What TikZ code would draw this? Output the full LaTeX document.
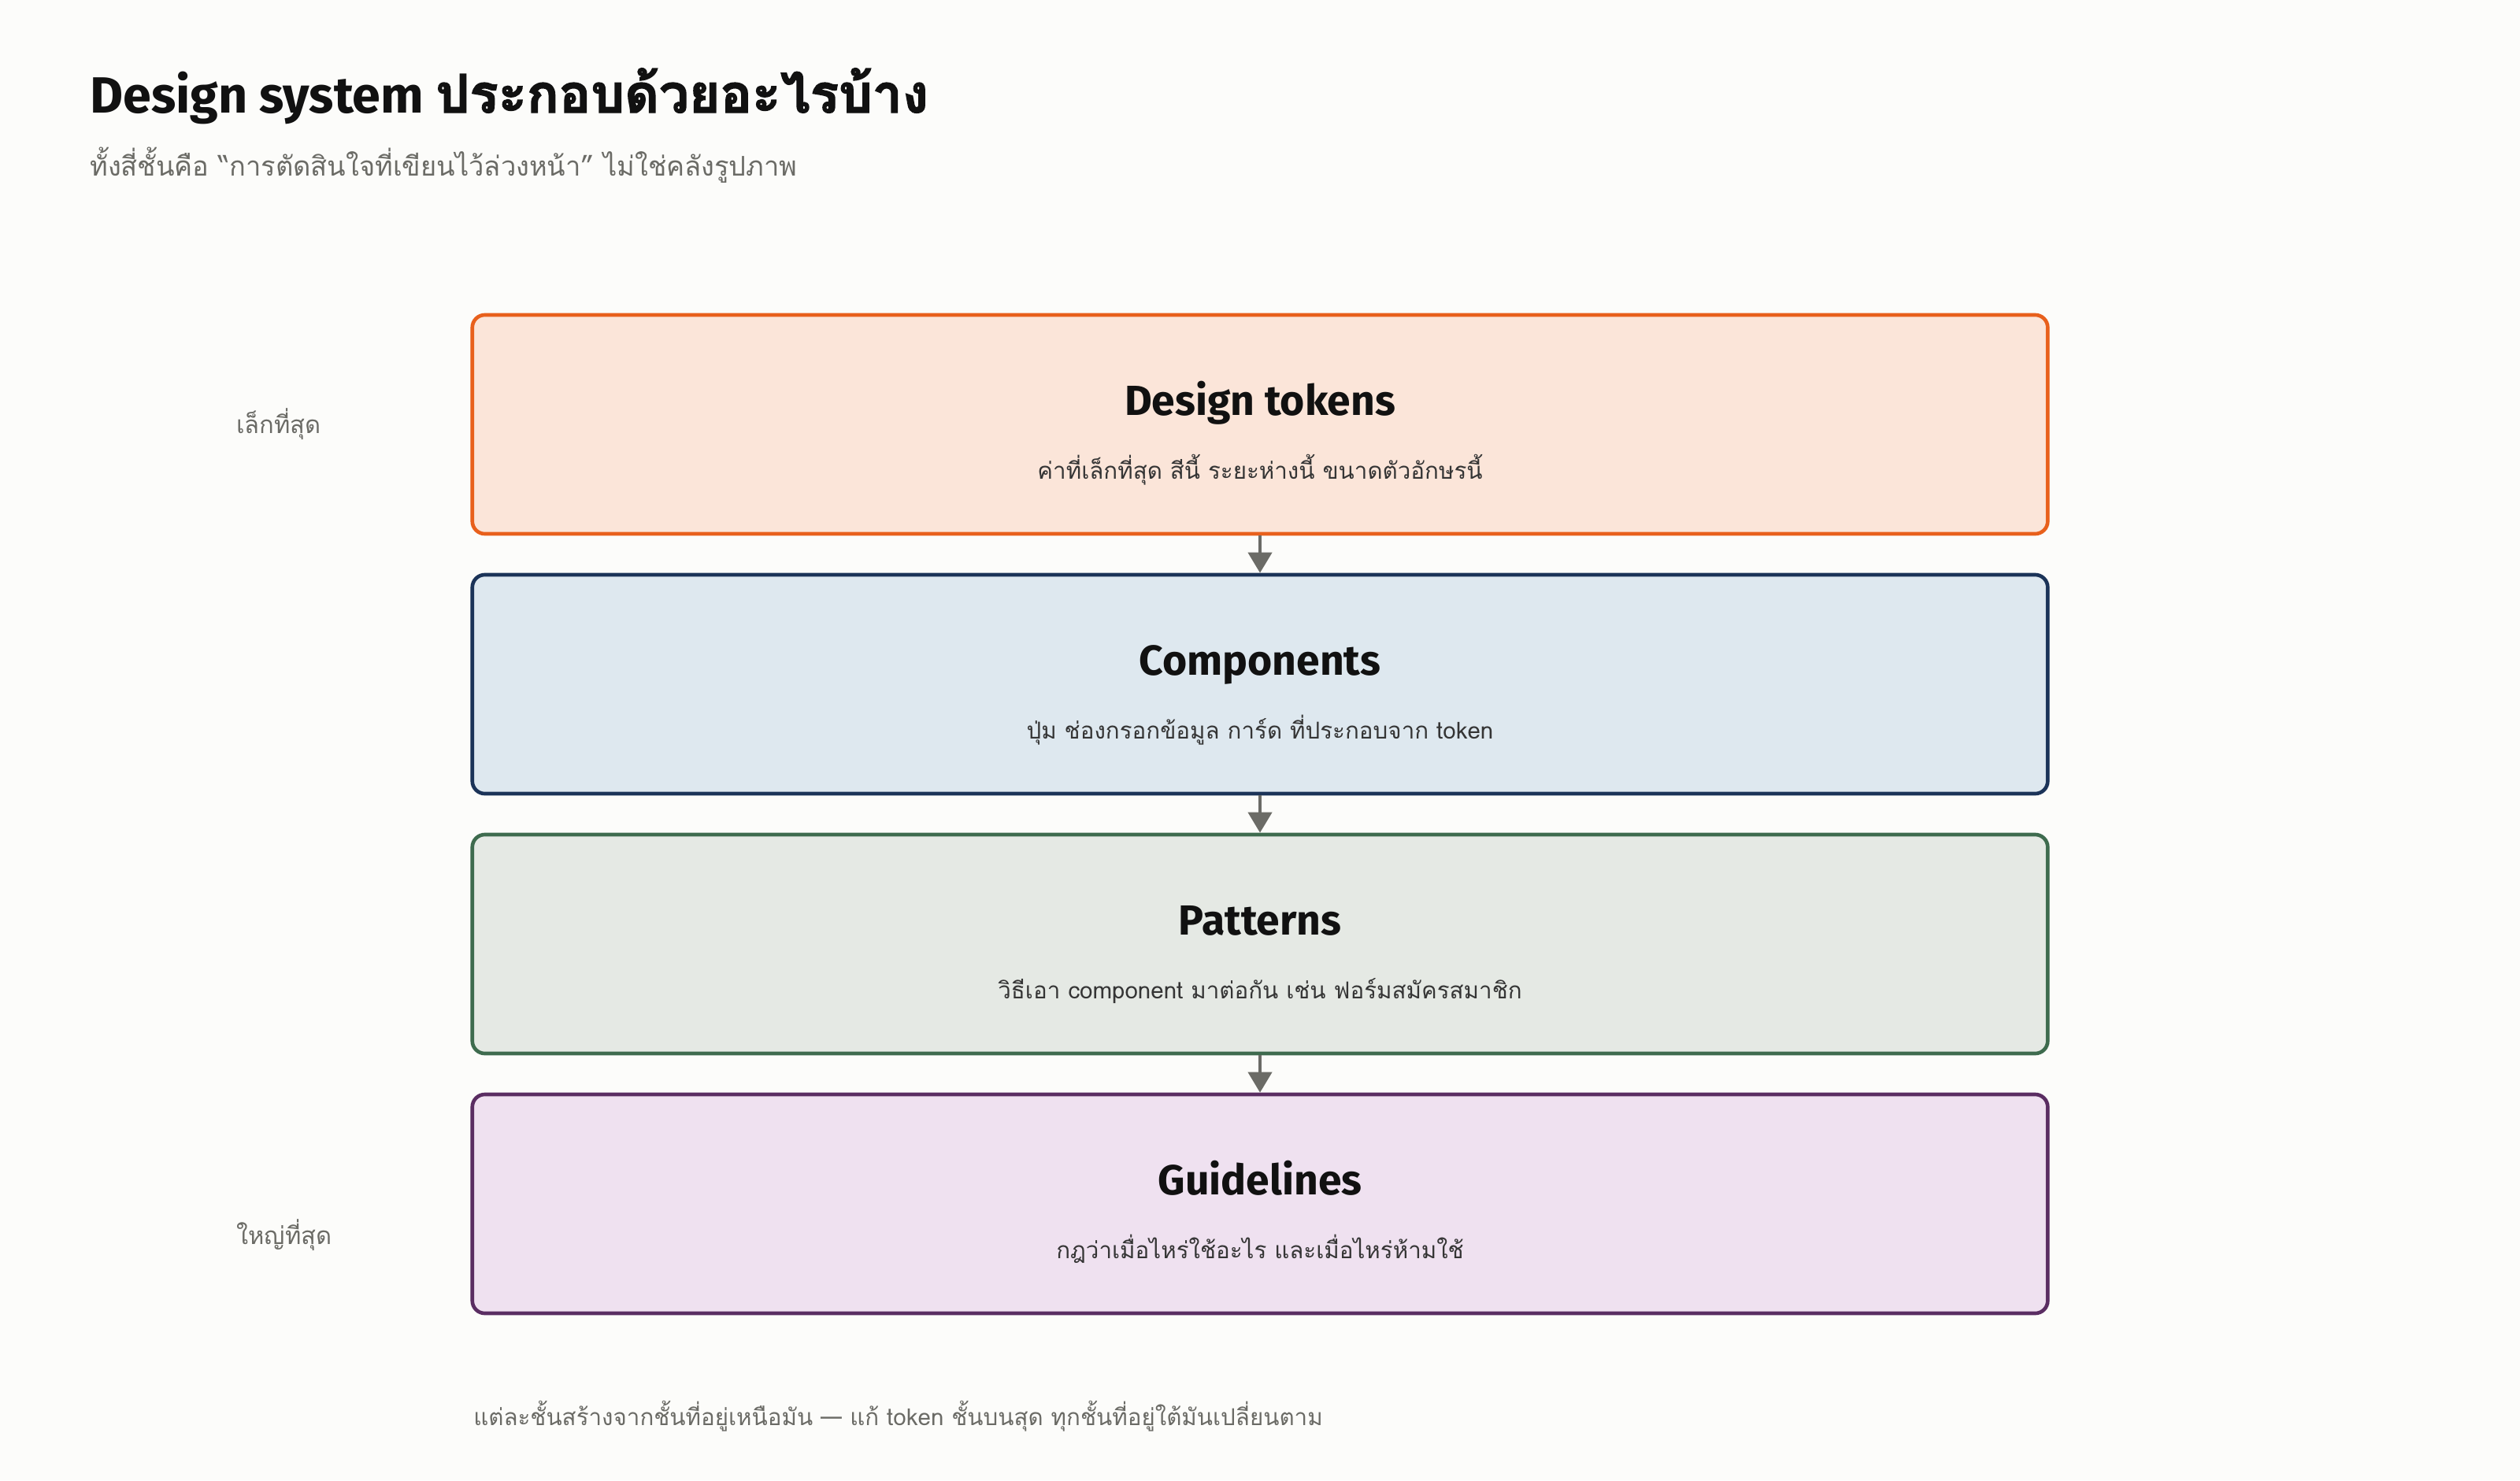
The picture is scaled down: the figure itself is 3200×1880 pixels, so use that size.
\documentclass[tikz,border=0pt]{standalone}
\usepackage{fontspec}
\setmainfont{Fira Sans}
\newfontfamily\thaifont[Script=Thai]{Loma}
\newfontfamily\thaiheavy[Script=Thai, FakeBold=2.2]{Loma}
\usetikzlibrary{arrows.meta}

\definecolor{bg}{HTML}{FCFCFA}
\definecolor{ink}{HTML}{111111}
\definecolor{muted}{HTML}{6B6B66}
\definecolor{tokline}{HTML}{E8601C}
\definecolor{tokfill}{HTML}{FBE5D9}
\definecolor{compline}{HTML}{1B3358}
\definecolor{compfill}{HTML}{DEE8EF}
\definecolor{patline}{HTML}{3E6B4E}
\definecolor{patfill}{HTML}{E5E9E4}
\definecolor{guideline}{HTML}{5A2D62}
\definecolor{guidefill}{HTML}{EFE1F0}

\tikzset{
	layer/.style={draw, rounded corners=0.4cm, line width=3.3pt, minimum width=50cm, minimum height=6.95cm, inner sep=0pt},
	layertitle/.style={anchor=base, font=\fontsize{38}{44}\selectfont\bfseries, text=ink},
	layerdesc/.style={anchor=base, font=\thaifont\fontsize{21}{26}\selectfont, text=ink!85},
	sidenote/.style={anchor=base west, inner sep=0pt, font=\thaifont\fontsize{22}{26}\selectfont, text=muted},
	flow/.style={muted, line width=3pt, -{Triangle[width=0.75cm,length=0.65cm]}}
}

\begin{document}
\begin{tikzpicture}[x=0.025cm,y=-0.025cm]
	\useasboundingbox[fill=bg] (0,0) rectangle (3200,1880);
	
	% Heading
	\node[anchor=base west, inner sep=0pt, font=\fontsize{46}{52}\selectfont\bfseries, text=ink] (title) at (114,143)
		{Design system {\thaiheavy\fontsize{48}{52}\selectfont ประกอบด้วยอะไรบ้าง}};
	\node[anchor=base west, inner sep=0pt, font=\thaifont\fontsize{24.5}{30}\selectfont, text=muted] (subtitle) at (114,223)
		{ทั้งสี่ชั้นคือ “การตัดสินใจที่เขียนไว้ล่วงหน้า” ไม่ใช่คลังรูปภาพ};
	
	% Layers
	\foreach \name/\top/\fillc/\linec/\head/\desc in {
		tokens/400/tokfill/tokline/Design tokens/{ค่าที่เล็กที่สุด สีนี้ ระยะห่างนี้ ขนาดตัวอักษรนี้},
		comps/730/compfill/compline/Components/{ปุ่ม ช่องกรอกข้อมูล การ์ด ที่ประกอบจาก token},
		patterns/1060/patfill/patline/Patterns/{วิธีเอา component มาต่อกัน เช่น ฟอร์มสมัครสมาชิก},
		guides/1390/guidefill/guideline/Guidelines/{กฎว่าเมื่อไหร่ใช้อะไร และเมื่อไหร่ห้ามใช้}} {
		\node[layer, fill=\fillc, draw=\linec] (\name) at (1600,\top+139) {};
		\node[layertitle] (\name-head) at (1600,\top+127) {\head};
		\node[layerdesc] (\name-desc) at (1600,\top+208) {\desc};
	}
	
	% Arrows
	\foreach \a/\b in {tokens/comps, comps/patterns, patterns/guides} {
		\draw[flow] (\a.south) -- (\b.north);
	}
	
	% Side notes
	\node[sidenote] (smallest) at (300,550) {เล็กที่สุด};
	\node[sidenote] (largest) at (300,1580) {ใหญ่ที่สุด};
	
	% Footer
	\node[sidenote, font=\thaifont\fontsize{21}{26}\selectfont] (footer) at (601,1810)
		{แต่ละชั้นสร้างจากชั้นที่อยู่เหนือมัน — แก้ token ชั้นบนสุด ทุกชั้นที่อยู่ใต้มันเปลี่ยนตาม};
\end{tikzpicture}
\end{document}
